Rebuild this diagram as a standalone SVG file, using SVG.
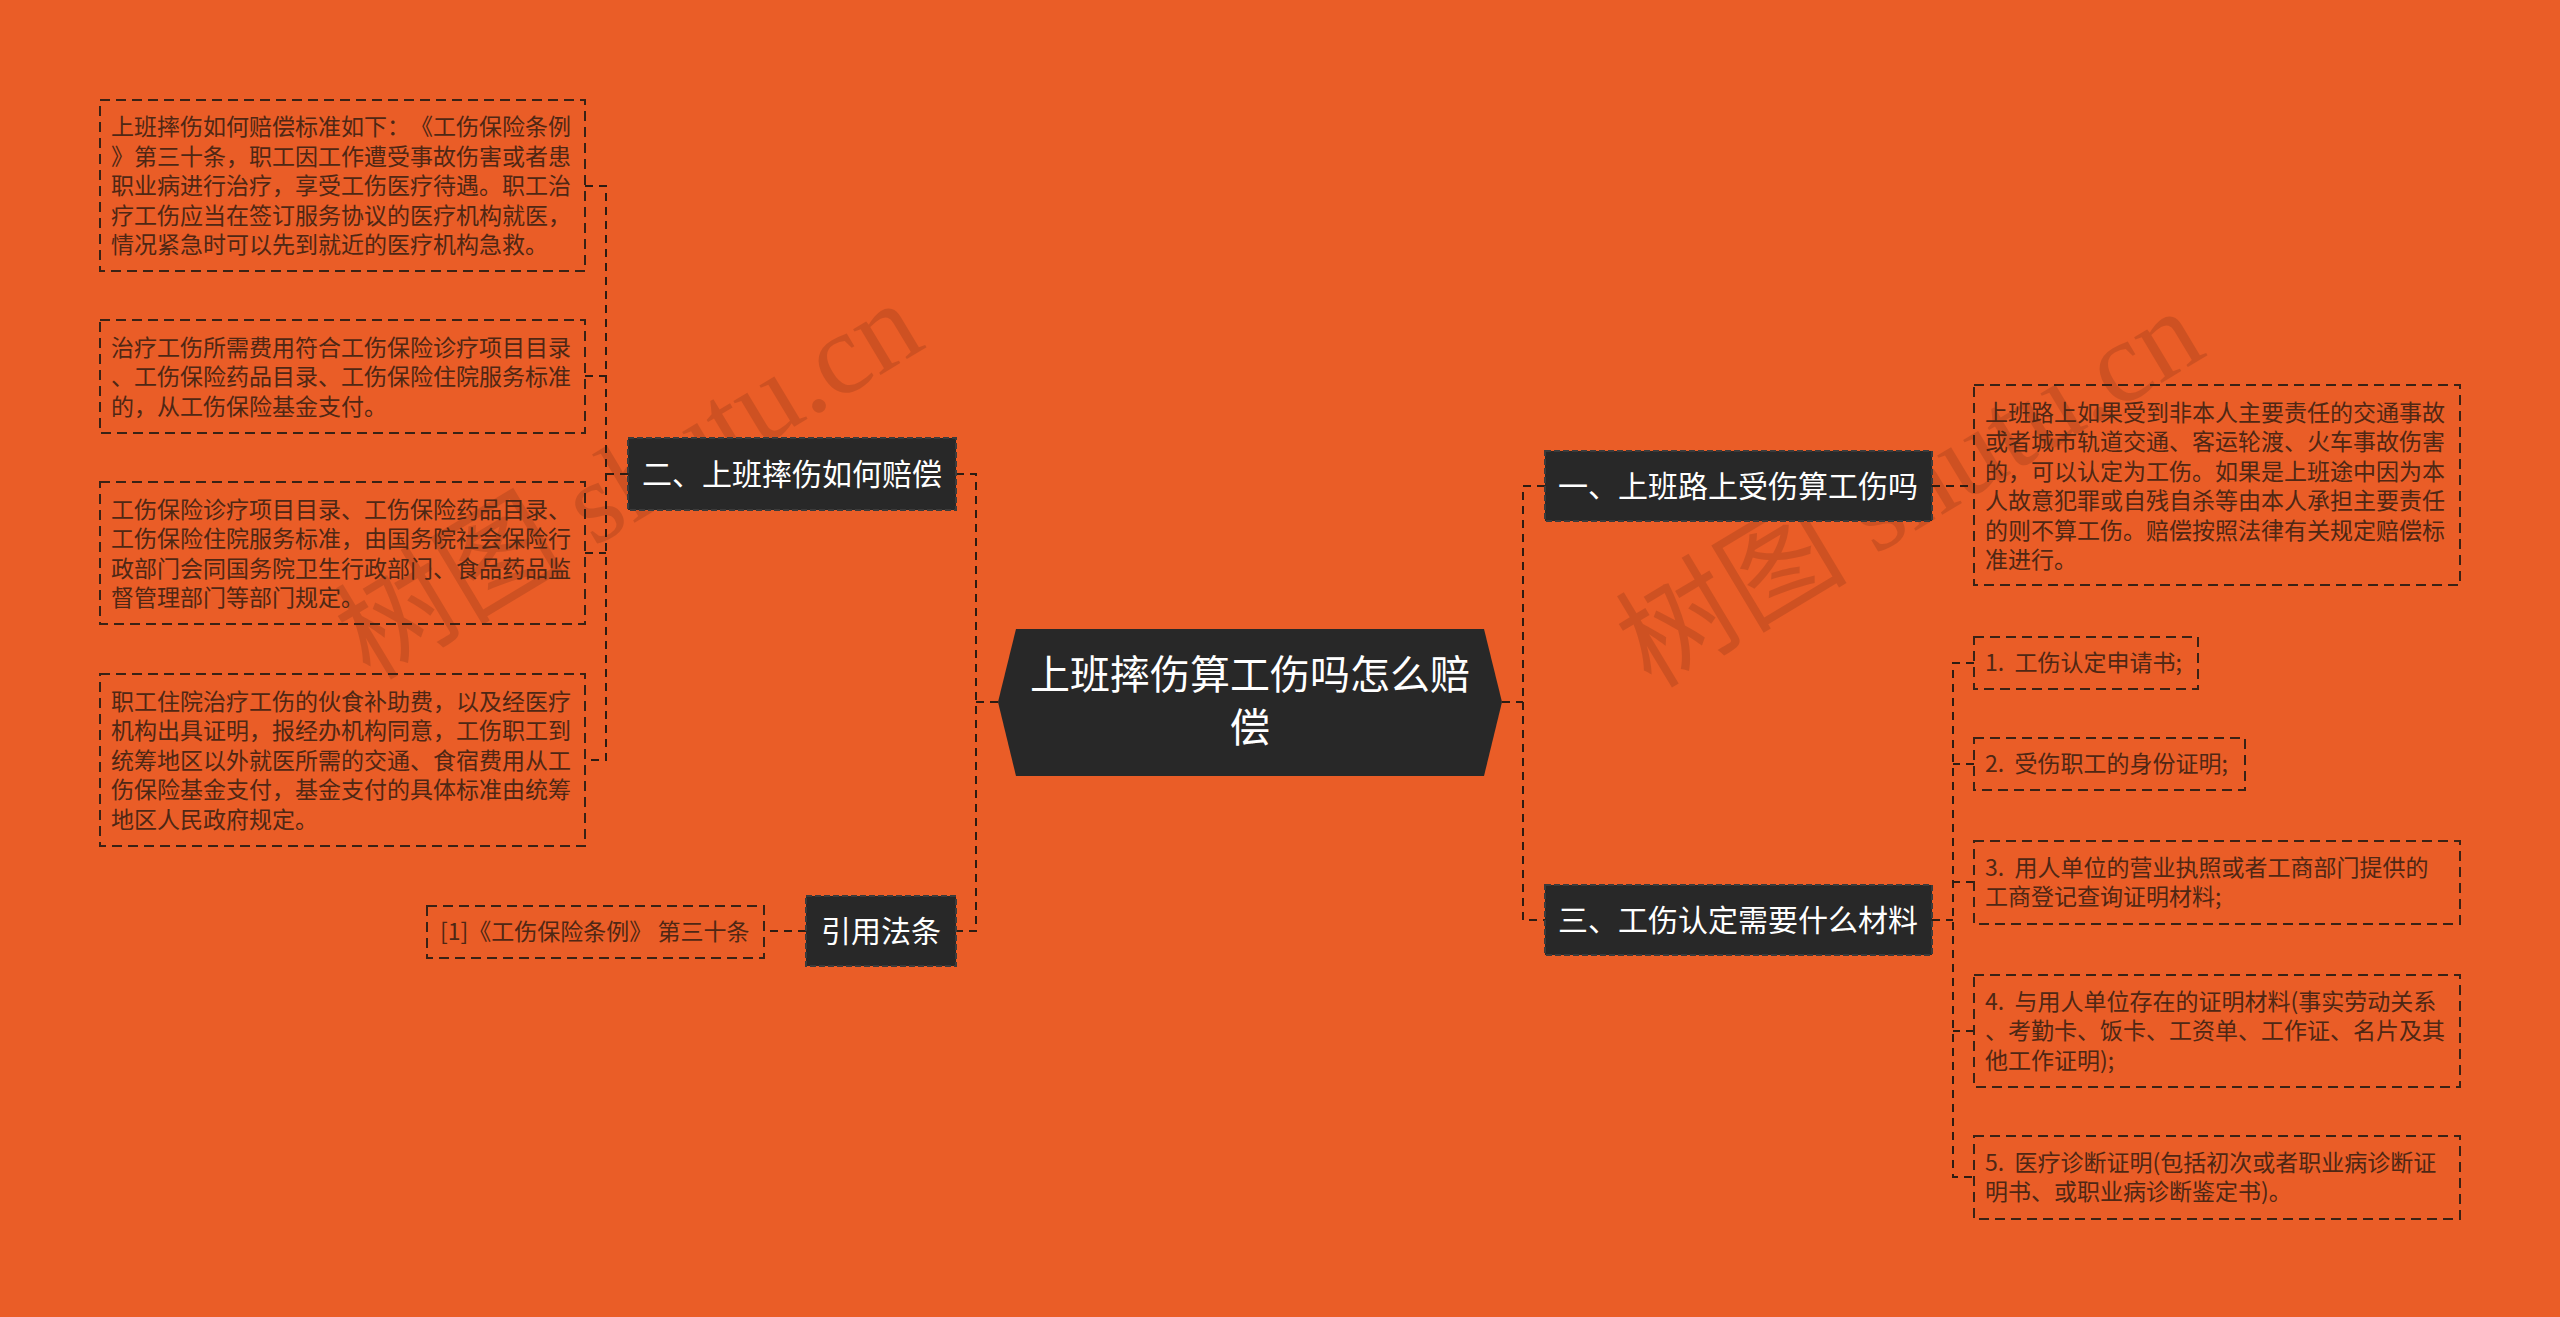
<svg xmlns="http://www.w3.org/2000/svg" width="2560" height="1317" viewBox="0 0 2560 1317">
<style>
.bg{fill:#EA5D27}
.wm{font-family:"Liberation Serif","Noto Sans CJK SC",serif;font-size:116px;fill:#6e2a12;opacity:0.22}
.hex{fill:#282828}
.lvl{fill:#282828;stroke:#3b3b3b;stroke-width:2;stroke-dasharray:6 3}
.lt{font-family:"Noto Sans CJK SC","Noto Sans CJK JP",sans-serif;fill:#ffffff;text-anchor:middle;text-spacing-trim:space-all}
.box{fill:none;stroke:#3a2215;stroke-width:2;stroke-dasharray:10 6}
.dt{font-family:"Noto Sans CJK SC","Noto Sans CJK JP",sans-serif;font-size:23px;fill:#4f2714;white-space:pre;text-spacing-trim:space-all}
.con{fill:none;stroke:#2e1c12;stroke-width:2;stroke-dasharray:8 6}
</style>
<rect class="bg" x="0" y="0" width="2560" height="1317"/>
<g id="watermarks">
<text class="wm" transform="translate(649,514) rotate(-31)" text-anchor="middle">树图 shutu.cn</text>
<text class="wm" transform="translate(1930,522) rotate(-31)" text-anchor="middle">树图 shutu.cn</text>
</g>
<g id="connectors">
<path class="con" d="M628 474H606M585 186H606V760H585M585 376H606M585 553H606"/>
<path class="con" d="M998 702H976M956 474H976V931H956"/>
<path class="con" d="M806 931H764"/>
<path class="con" d="M1502 702H1523M1545 486H1523V920H1545"/>
<path class="con" d="M1932 486H1974"/>
<path class="con" d="M1932 920H1953M1974 663H1953V1177H1974M1974 764H1953M1974 882H1953M1974 1031H1953"/>
</g>
<g id="root">
<polygon class="hex" points="998,702 1016,629 1484,629 1502,702 1484,776 1016,776"/>
<text class="lt" font-size="40" x="1250" y="689">上班摔伤算工伤吗怎么赔</text>
<text class="lt" font-size="40" x="1250" y="742">偿</text>
</g>
<g id="n2">
<rect class="lvl" x="628" y="438" width="328" height="72"/>
<text class="lt" font-size="30" x="792" y="485">二、上班摔伤如何赔偿</text>
</g>
<g id="n2a">
<rect class="box" x="100" y="100" width="485" height="171"/>
<text class="dt" x="111" y="135">上班摔伤如何赔偿标准如下：《工伤保险条例</text>
<text class="dt" x="111" y="165">》第三十条，职工因工作遭受事故伤害或者患</text>
<text class="dt" x="111" y="194">职业病进行治疗，享受工伤医疗待遇。职工治</text>
<text class="dt" x="111" y="224">疗工伤应当在签订服务协议的医疗机构就医，</text>
<text class="dt" x="111" y="253">情况紧急时可以先到就近的医疗机构急救。</text>
</g>
<g id="n2b">
<rect class="box" x="100" y="320" width="485" height="113"/>
<text class="dt" x="111" y="356">治疗工伤所需费用符合工伤保险诊疗项目目录</text>
<text class="dt" x="111" y="385">、工伤保险药品目录、工伤保险住院服务标准</text>
<text class="dt" x="111" y="415">的，从工伤保险基金支付。</text>
</g>
<g id="n2c">
<rect class="box" x="100" y="482" width="485" height="142"/>
<text class="dt" x="111" y="518">工伤保险诊疗项目目录、工伤保险药品目录、</text>
<text class="dt" x="111" y="547">工伤保险住院服务标准，由国务院社会保险行</text>
<text class="dt" x="111" y="577">政部门会同国务院卫生行政部门、食品药品监</text>
<text class="dt" x="111" y="606">督管理部门等部门规定。</text>
</g>
<g id="n2d">
<rect class="box" x="100" y="674" width="485" height="172"/>
<text class="dt" x="111" y="710">职工住院治疗工伤的伙食补助费，以及经医疗</text>
<text class="dt" x="111" y="739">机构出具证明，报经办机构同意，工伤职工到</text>
<text class="dt" x="111" y="769">统筹地区以外就医所需的交通、食宿费用从工</text>
<text class="dt" x="111" y="798">伤保险基金支付，基金支付的具体标准由统筹</text>
<text class="dt" x="111" y="828">地区人民政府规定。</text>
</g>
<g id="n4">
<rect class="lvl" x="806" y="896" width="150" height="70"/>
<text class="lt" font-size="30" x="881" y="942">引用法条</text>
</g>
<g id="n4a">
<rect class="box" x="427" y="906" width="337" height="52"/>
<text class="dt" x="440" y="940">[1]《工伤保险条例》 第三十条</text>
</g>
<g id="n1">
<rect class="lvl" x="1545" y="451" width="387" height="70"/>
<text class="lt" font-size="30" x="1738" y="497">一、上班路上受伤算工伤吗</text>
</g>
<g id="n1a">
<rect class="box" x="1974" y="385" width="486" height="200"/>
<text class="dt" x="1985" y="421">上班路上如果受到非本人主要责任的交通事故</text>
<text class="dt" x="1985" y="450">或者城市轨道交通、客运轮渡、火车事故伤害</text>
<text class="dt" x="1985" y="480">的，可以认定为工伤。如果是上班途中因为本</text>
<text class="dt" x="1985" y="509">人故意犯罪或自残自杀等由本人承担主要责任</text>
<text class="dt" x="1985" y="539">的则不算工伤。赔偿按照法律有关规定赔偿标</text>
<text class="dt" x="1985" y="568">准进行。</text>
</g>
<g id="n3">
<rect class="lvl" x="1545" y="885" width="387" height="70"/>
<text class="lt" font-size="30" x="1738" y="931">三、工伤认定需要什么材料</text>
</g>
<g id="n3a">
<rect class="box" x="1974" y="637" width="224" height="52"/>
<text class="dt" x="1985" y="671">1.  工伤认定申请书;</text>
</g>
<g id="n3b">
<rect class="box" x="1974" y="738" width="271" height="52"/>
<text class="dt" x="1985" y="772">2.  受伤职工的身份证明;</text>
</g>
<g id="n3c">
<rect class="box" x="1974" y="841" width="486" height="83"/>
<text class="dt" x="1985" y="876">3.  用人单位的营业执照或者工商部门提供的</text>
<text class="dt" x="1985" y="905">工商登记查询证明材料;</text>
</g>
<g id="n3d">
<rect class="box" x="1974" y="975" width="486" height="112"/>
<text class="dt" x="1985" y="1010">4.  与用人单位存在的证明材料(事实劳动关系</text>
<text class="dt" x="1985" y="1039">、考勤卡、饭卡、工资单、工作证、名片及其</text>
<text class="dt" x="1985" y="1069">他工作证明);</text>
</g>
<g id="n3e">
<rect class="box" x="1974" y="1136" width="486" height="83"/>
<text class="dt" x="1985" y="1171">5.  医疗诊断证明(包括初次或者职业病诊断证</text>
<text class="dt" x="1985" y="1200">明书、或职业病诊断鉴定书)。</text>
</g>
</svg>
